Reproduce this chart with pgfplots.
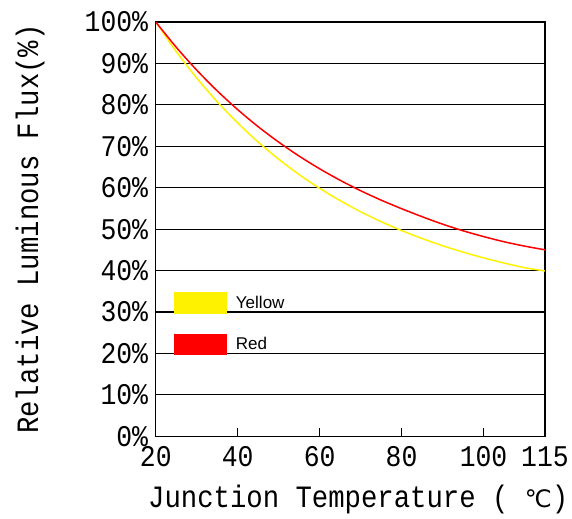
\documentclass[border=0pt]{standalone}
\usepackage{pgfplots}
\pgfplotsset{compat=1.18}
\usepackage{fontspec}
\setmainfont{Liberation Mono}[FakeStretch=0.88]
\newfontfamily\symfont{DejaVu Sans}
\newfontfamily\legfont{Liberation Sans}

\begin{document}
\begin{tikzpicture}
\begin{axis}[
    scale only axis,
    width=389pt, height=414pt,
    xmin=20, xmax=115,
    ymin=0, ymax=100,
    xtick={20,40,60,80,100,115},
    ytick={0,10,...,100},
    yticklabel={\pgfmathprintnumber{\tick}\%},
    /pgf/number format/assume math mode=true,
    tick label style={font=\fontsize{30}{30}\selectfont},
    yticklabel style={inner sep=0pt, xshift=-7.5pt},
    xticklabel style={inner sep=0pt, yshift=-10pt},
    xtick pos=bottom,
    xtick align=inside,
    major tick length=8pt,
    ytick style={draw=none},
    ymajorgrids=true,
    grid style={black, line width=1.2pt},
    axis line style={line width=1.2pt},
    every tick/.style={black, line width=1pt},
    xlabel={Junction Temperature ( {\symfont\fontsize{24}{24}\selectfont ℃})},
    ylabel={Relative Luminous Flux(\%)},
    label style={font=\fontsize{31}{31}\selectfont},
    xlabel style={at={(axis description cs:0.52,-0.152)}, anchor=center},
    ylabel style={at={(axis description cs:-0.323,0.5)}, anchor=center},
    legend image code/.code={\fill[#1] (0pt,-10pt) rectangle (51pt,10pt);},
    legend cell align=left,
    legend style={draw=none, fill=none, at={(axis cs:24.5,34.8)}, anchor=north west,
        font=\legfont\fontsize{17}{17}\selectfont, row sep=20pt, inner sep=0pt,
        /tikz/every odd column/.append style={column sep=7pt}},
]
% Yellow
\addplot[color=yellow, line width=1.5pt, smooth] coordinates {
    (20,100)(25,92.87)(30,86.48)(35,80.75)(40,75.62)(45,71.01)(50,66.88)
    (55,63.17)(60,59.85)(65,56.87)(70,54.20)(75,51.80)(80,49.66)(85,47.73)
    (90,46.00)(95,44.45)(100,43.06)(105,41.82)(110,40.70)(115,39.90)
};
\addlegendentry{Yellow}
% Red
\addplot[color=red, line width=1.5pt, smooth] coordinates {
    (20,100)(25,93.90)(30,88.38)(35,83.37)(40,78.84)(45,74.72)(50,71.00)
    (55,67.62)(60,64.56)(65,61.79)(70,59.27)(75,57.00)(80,54.93)(85,53.00)
    (90,51.20)(95,49.60)(100,48.20)(105,46.95)(110,45.90)(115,45.00)
};
\addlegendentry{Red}
\coordinate (TL) at (rel axis cs:0,1);
\coordinate (BR) at (rel axis cs:1,0);
\end{axis}
\path (TL) ++(-155.7pt,22pt) coordinate (A);
\path (BR) ++(27pt,-82pt) coordinate (B);
\pgfresetboundingbox
\path (A) rectangle (B);
\end{tikzpicture}
\end{document}
